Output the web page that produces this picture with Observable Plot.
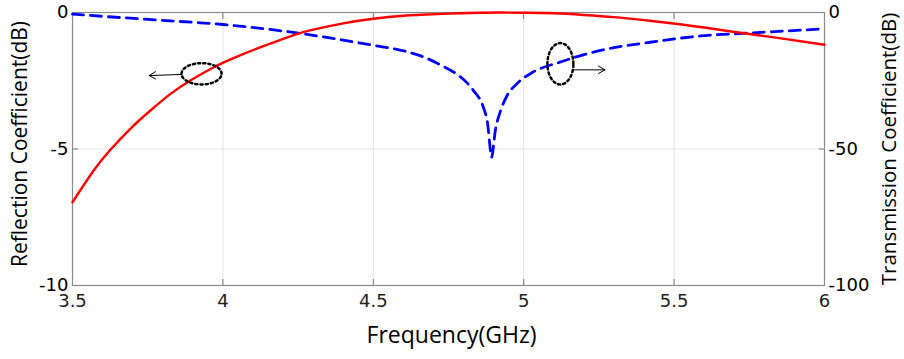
<!DOCTYPE html>
<html>
<head>
<meta charset="utf-8">
<script src="https://cdn.jsdelivr.net/npm/d3@7"></script>
<script src="https://cdn.jsdelivr.net/npm/@observablehq/plot@0.6"></script>
<style>
  html, body { margin: 0; padding: 0; background: #fff; }
  #chart svg { display: block; }
</style>
</head>
<body>
<div id="chart"></div>
<script>
// Reflection coefficient (left axis, dB)
const freqR = [3.5, 3.571, 3.626, 3.693, 3.759, 3.826, 3.892, 3.959, 4.003, 4.081, 4.17, 4.24, 4.3, 4.4, 4.5, 4.6, 4.657, 4.75, 4.85, 4.92, 5.0, 5.1, 5.2, 5.3, 5.4, 5.505, 5.6, 5.744, 5.85, 6.0];
const refl  = [-6.95, -5.78, -5.03, -4.25, -3.59, -2.98, -2.49, -2.07, -1.83, -1.46, -1.09, -0.81, -0.63, -0.4, -0.23, -0.12, -0.085, -0.04, -0.01, 0, -0.01, -0.03, -0.09, -0.17, -0.28, -0.41, -0.55, -0.78, -0.94, -1.18];

// Transmission coefficient (right axis, dB)
const freqT = [3.5, 3.6, 3.79, 3.9, 4.0, 4.17, 4.35, 4.42, 4.5, 4.613, 4.66, 4.72, 4.78, 4.81, 4.833, 4.866, 4.88, 4.89, 4.893, 4.906, 4.923, 4.945, 4.978, 5.03, 5.12, 5.255, 5.42, 5.588, 5.754, 6.0];
const trans = [-0.6, -1.4, -2.8, -3.6, -4.4, -6.4, -9.2, -10.5, -12.0, -14.4, -16.0, -19.0, -22.8, -25.6, -28.6, -34.8, -40.7, -51, -53, -43, -36, -30.4, -26, -21.9, -18.2, -13.9, -10.9, -8.6, -7.5, -6.0];

// Tick values
const xTicks = [3.5, 4, 4.5, 5, 5.5, 6];
const yTicks = [0, -5, -10];
const gridX = [4, 4.5, 5, 5.5];
const gridY = [-5];

// Annotations: dotted ellipses (center / radii in data units) and arrows
const ellipses = [
  {f: 3.929, v: -2.245, rf: 0.0665, rv: 0.39},
  {f: 5.122, v: -1.879, rf: 0.0432, rv: 0.758}
];
const arrows = [
  {f1: 3.862, v1: -2.27, f2: 3.755, v2: -2.31},
  {f1: 5.162, v1: -2.10, f2: 5.270, v2: -2.10}
];

const reflData = freqR.map((f, i) => ({f, v: refl[i]}));
const transData = freqT.map((f, i) => ({f, v: trans[i]}));
const ellipsePts = [];
ellipses.forEach((e, k) => {
  for (let j = 0; j <= 90; j++) {
    const a = (j / 90) * 2 * Math.PI;
    ellipsePts.push({k, f: e.f + e.rf * Math.cos(a), v: e.v + e.rv * Math.sin(a)});
  }
});

const tickFont = "'DejaVu Sans', sans-serif";
const titleFont = "'Open Sans', sans-serif";

const chart = Plot.plot({
  width: 904,
  height: 359,
  marginLeft: 72,
  marginRight: 80,
  marginTop: 12,
  marginBottom: 74,
  style: {fontFamily: tickFont, fontSize: "18px", color: "#000", background: "#fff"},
  x: {domain: [3.5, 6], label: null},
  y: {domain: [-10, 0], label: null},
  marks: [
    Plot.ruleX(gridX, {stroke: "#e3e3e3", strokeWidth: 1}),
    Plot.ruleY(gridY, {stroke: "#e3e3e3", strokeWidth: 1}),
    // inward tick marks
    Plot.axisX(xTicks, {anchor: "bottom", tickSize: 6, dy: -6, text: null, stroke: "#777"}),
    Plot.axisX(xTicks, {anchor: "top", tickSize: 6, dy: 6, text: null, stroke: "#777"}),
    Plot.axisY(yTicks, {anchor: "left", tickSize: 6, dx: 6, text: null, stroke: "#777"}),
    Plot.axisY(yTicks, {anchor: "right", tickSize: 6, dx: -6, text: null, stroke: "#777"}),
    // tick labels
    Plot.axisX(xTicks, {anchor: "bottom", tickSize: 0, tickPadding: 9, label: null, fill: "#222", tickFormat: d => String(d)}),
    Plot.axisY(yTicks, {anchor: "left", tickSize: 0, tickPadding: 4, label: null, fill: "#000", tickFormat: d => String(d)}),
    Plot.axisY(yTicks, {anchor: "right", tickSize: 0, tickPadding: 4, label: null, fill: "#000", tickFormat: d => String(d * 10)}),
    Plot.frame({stroke: "#8a8a8a", strokeWidth: 1.2}),
    // curves
    Plot.line(transData, {x: "f", y: d => d.v / 10, stroke: "#0000ff", strokeWidth: 2.8, strokeDasharray: "11,7", curve: "monotone-x"}),
    Plot.line(reflData, {x: "f", y: "v", stroke: "#ff0000", strokeWidth: 2.4, curve: "natural"}),
    // annotations
    Plot.line(ellipsePts, {x: "f", y: "v", z: "k", stroke: "#000", strokeWidth: 2.5, strokeDasharray: "2.2,3"}),
    Plot.arrow(arrows, {x1: "f1", y1: "v1", x2: "f2", y2: "v2", stroke: "#000", strokeWidth: 1, headLength: 11, headAngle: 60}),
    // axis titles
    Plot.text(["Reflection Coefficient(dB)"], {frameAnchor: "left", textAnchor: "middle", dx: -52, dy: -5, rotate: -90, fontFamily: titleFont, fontSize: 21, fill: "#000"}),
    Plot.text(["Transmission Coefficient(dB)"], {frameAnchor: "right", textAnchor: "middle", dx: 65, rotate: -90, fontFamily: titleFont, fontSize: 20.5, fill: "#000"}),
    Plot.text(["Frequency(GHz)"], {frameAnchor: "bottom", textAnchor: "middle", dx: 3, dy: 57, fontFamily: titleFont, fontSize: 23, fill: "#000"})
  ]
});

document.getElementById("chart").appendChild(chart);
</script>
</body>
</html>
